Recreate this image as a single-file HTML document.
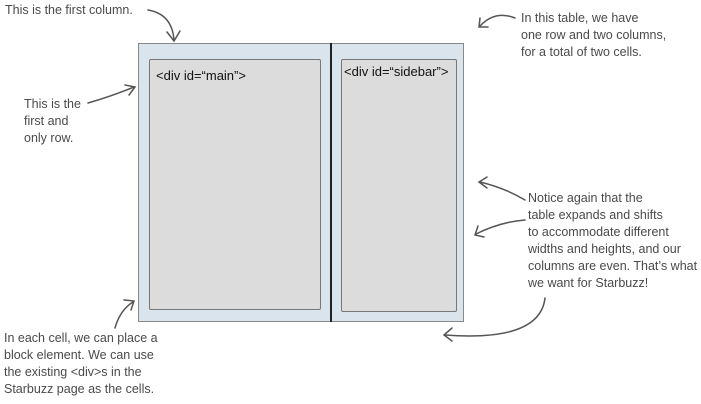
<!DOCTYPE html>
<html><head><style>
body{margin:0;width:701px;height:404px;background:#fff;position:relative;overflow:hidden;font-family:"Liberation Sans",sans-serif}
.n{position:absolute;font-size:12.5px;line-height:17px;color:#4a4a4a;white-space:nowrap}
.c{position:absolute;background:#dcdcdc;border:1px solid #777;border-radius:2px}
.lbl{position:absolute;font-size:13px;color:#111}
</style></head><body>
<div style="position:absolute;left:138px;top:43px;width:324px;height:277px;background:#d9e4ec;border:1.5px solid #888"></div>
<div style="position:absolute;left:330px;top:43px;width:2px;height:279px;background:#222"></div>
<div class="c" style="left:149px;top:59px;width:170px;height:249px"></div>
<div class="c" style="left:341px;top:59px;width:114px;height:251px"></div>
<div class="lbl" style="left:156px;top:68px">&lt;div id=“main”&gt;</div>
<div class="lbl" style="left:344px;top:64px">&lt;div id=“sidebar”&gt;</div>
<div class="n" style="left:5px;top:2px">This is the first column.</div>
<div class="n" style="left:521px;top:10px">In this table, we have<br>one row and two columns,<br>for a total of two cells.</div>
<div class="n" style="left:24px;top:96px">This is the<br>first and<br>only row.</div>
<div class="n" style="left:528px;top:190px">Notice again that the<br>table expands and shifts<br>to accommodate different<br>widths and heights, and our<br>columns are even. That’s what<br>we want for Starbuzz!</div>
<div class="n" style="left:4px;top:330px">In each cell, we can place a<br>block element. We can use<br>the existing &lt;div&gt;s in the<br>Starbuzz page as the cells.</div>
<svg width="701" height="404" style="position:absolute;left:0;top:0" fill="none" stroke="#555" stroke-width="1.5" stroke-linecap="round">
<path d="M148 10 Q172 14 174 40"/><path d="M167 32 L174 41 L180 31"/>
<path d="M515 18 Q495 10 480 26"/><path d="M480 18 L479 27 L488 27"/>
<path d="M88 103 Q112 96 134 87"/><path d="M125 85 L135 87 L129 95"/>
<path d="M525 200 Q505 188 480 182"/><path d="M487 177 L479 182 L487 188"/>
<path d="M525 220 Q500 222 476 234"/><path d="M478 226 L475 235 L484 237"/>
<path d="M545 298 Q540 342 445 335"/><path d="M452 328 L444 335 L452 341"/>
<path d="M115 328 Q120 310 133 302"/><path d="M124 300 L134 301 L131 310"/>
</svg>
</body></html>
